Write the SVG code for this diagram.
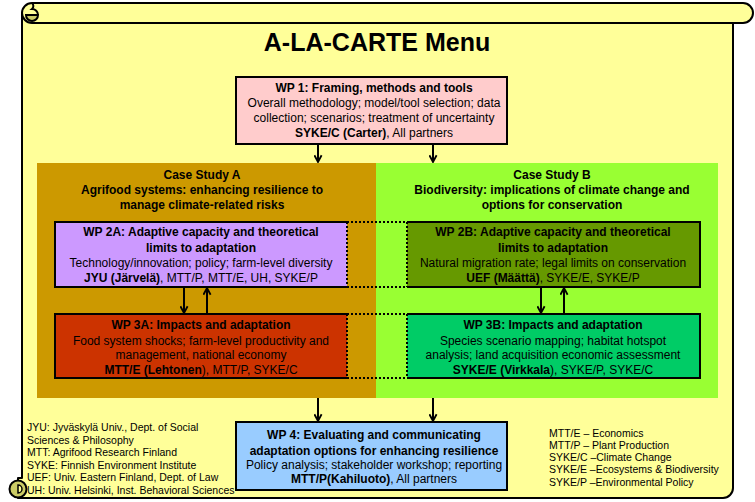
<svg xmlns="http://www.w3.org/2000/svg" width="755" height="502" viewBox="0 0 755 502">
<defs>
<style>
text{font-family:"Liberation Sans",Arial,sans-serif;fill:#000}
.t{font-size:12px;text-anchor:middle}
.b{font-weight:bold}
.lg{font-size:10.5px}
.box{stroke:#000;stroke-width:2}
.edge{fill:none;stroke:#000;stroke-width:2}
.dot{fill:none;stroke:#000;stroke-width:2;stroke-dasharray:2,2}
.arr{fill:none;stroke:#000;stroke-width:2;marker-end:url(#ah)}
.scroll{fill:#ffff99;stroke:#000;stroke-width:2;stroke-linejoin:round}
.dark{fill:#cccc66;stroke:#000;stroke-width:2}
</style>
<marker id="ah" viewBox="0 0 10 10" refX="8.5" refY="5" markerWidth="9" markerHeight="9" markerUnits="userSpaceOnUse" orient="auto">
<path d="M1,1 L8.5,5 L1,9" fill="none" stroke="#000" stroke-width="2"/>
</marker>
</defs>

<g id="scroll">
<path class="scroll" d="M22,13 H733 V488 A10,10 0 0 1 723,498 H18 V478 H22 Z"/>
<path class="scroll" d="M32,3 H743 A10,10 0 0 1 743,23 H32 A10,10 0 0 1 32,3 Z"/>
<path class="dark" d="M26,15 A6,6 0 0 0 38,15 Z"/>
<path class="edge" d="M38,15 A6,6 0 0 0 32,9 A4,4 0 0 0 32,3"/>
<circle class="dark" cx="18" cy="489" r="8.5"/>
<path d="M18,485 A4,4 0 0 1 18,493 Z" fill="#ffff99" stroke="#000" stroke-width="1.5"/>
<text x="377" y="51" font-size="25" font-weight="bold" text-anchor="middle">A-LA-CARTE Menu</text>
</g>

<g id="caseA">
<rect x="37" y="163" width="339" height="235" fill="#cc9900"/>
<text class="t b" x="202" y="179">Case Study A</text>
<text class="t b" x="202" y="194">Agrifood systems: enhancing resilience to</text>
<text class="t b" x="202" y="209">manage climate-related risks</text>
</g>

<g id="caseB">
<rect x="376" y="163" width="342" height="235" fill="#99ff33"/>
<text class="t b" x="552" y="179">Case Study B</text>
<text class="t b" x="552" y="194">Biodiversity: implications of climate change and</text>
<text class="t b" x="552" y="209">options for conservation</text>
</g>

<g id="wp1">
<rect class="box" x="236" y="77" width="271" height="67" fill="#ffcccc"/>
<text class="t b" x="374" y="92">WP 1: Framing, methods and tools</text>
<text class="t" x="374" y="107">Overall methodology; model/tool selection; data</text>
<text class="t" x="374" y="122">collection; scenarios; treatment of uncertainty</text>
<text class="t" x="374" y="137"><tspan class="b">SYKE/C (Carter)</tspan>, All partners</text>
</g>

<g id="wp2a">
<rect x="55" y="222" width="292" height="65" fill="#cc99ff"/>
<path class="edge" d="M347,222 H55 V287 H347"/>
<path class="dot" d="M347,222 V287"/>
<text class="t b" x="201" y="236">WP 2A: Adaptive capacity and theoretical</text>
<text class="t b" x="201" y="252">limits to adaptation</text>
<text class="t" x="201" y="267">Technology/innovation; policy; farm-level diversity</text>
<text class="t" x="201" y="282"><tspan class="b">JYU (Järvelä)</tspan>, MTT/P, MTT/E, UH, SYKE/P</text>
</g>

<g id="wp2b">
<rect x="407" y="222" width="293" height="65" fill="#669900"/>
<path class="edge" d="M407,222 H700 V287 H407"/>
<path class="dot" d="M407,222 V287"/>
<text class="t b" x="553" y="236">WP 2B: Adaptive capacity and theoretical</text>
<text class="t b" x="553" y="252">limits to adaptation</text>
<text class="t" x="553" y="267">Natural migration rate; legal limits on conservation</text>
<text class="t" x="553" y="282"><tspan class="b">UEF (Määttä)</tspan>, SYKE/E, SYKE/P</text>
</g>

<g id="wp3a">
<rect x="55" y="314" width="292" height="64" fill="#cc3300"/>
<path class="edge" d="M347,314 H55 V378 H347"/>
<path class="dot" d="M347,314 V378"/>
<text class="t b" x="201" y="329">WP 3A: Impacts and adaptation</text>
<text class="t" x="201" y="345">Food system shocks; farm-level productivity and</text>
<text class="t" x="201" y="359">management, national economy</text>
<text class="t" x="201" y="374"><tspan class="b">MTT/E (Lehtonen</tspan>), MTT/P,  SYKE/C</text>
</g>

<g id="wp3b">
<rect x="407" y="314" width="293" height="64" fill="#00cc66"/>
<path class="edge" d="M407,314 H700 V378 H407"/>
<path class="dot" d="M407,314 V378"/>
<text class="t b" x="553" y="329">WP 3B: Impacts and adaptation</text>
<text class="t" x="553" y="345">Species scenario mapping; habitat hotspot</text>
<text class="t" x="553" y="359">analysis; land acquisition economic assessment</text>
<text class="t" x="553" y="374"><tspan class="b">SYKE/E (Virkkala</tspan>), SYKE/P, SYKE/C</text>
</g>

<g id="wp4">
<rect class="box" x="236" y="422" width="271" height="68" fill="#99ccff"/>
<text class="t b" x="374" y="439">WP 4: Evaluating and communicating</text>
<text class="t b" x="374" y="455">adaptation options for enhancing resilience</text>
<text class="t" x="374" y="469">Policy analysis; stakeholder workshop; reporting</text>
<text class="t" x="374" y="483"><tspan class="b">MTT/P(Kahiluoto)</tspan>, All partners</text>
</g>

<g id="legend-org">
<text class="lg" x="27" y="431">JYU: Jyväskylä Univ., Dept. of Social</text>
<text class="lg" x="27" y="443.5">Sciences &amp; Philosophy</text>
<text class="lg" x="27" y="456">MTT:  Agrifood Research Finland</text>
<text class="lg" x="27" y="468.5">SYKE: Finnish Environment Institute</text>
<text class="lg" x="27" y="481">UEF: Univ. Eastern Finland, Dept. of Law</text>
<text class="lg" x="27" y="493.5">UH: Univ. Helsinki, Inst. Behavioral Sciences</text>
</g>

<g id="legend-units">
<text class="lg" x="549" y="437">MTT/E  – Economics</text>
<text class="lg" x="549" y="449">MTT/P  – Plant Production</text>
<text class="lg" x="549" y="461">SYKE/C –Climate Change</text>
<text class="lg" x="549" y="473">SYKE/E –Ecosystems &amp; Biodiversity</text>
<text class="lg" x="549" y="485.5">SYKE/P –Environmental Policy</text>
</g>

<g id="connectors">
<path class="arr" d="M318,144 V162"/>
<path class="arr" d="M433,144 V162"/>
<path class="dot" d="M347,222 H407 M347,287 H407"/>
<path class="dot" d="M347,314 H407 M347,378 H407"/>
<path class="arr" d="M184,287 V313"/>
<path class="arr" d="M207,314 V288"/>
<path class="arr" d="M541,287 V313"/>
<path class="arr" d="M564,314 V288"/>
<path class="arr" d="M318,398 V421"/>
<path class="arr" d="M433,398 V421"/>
</g>
</svg>
